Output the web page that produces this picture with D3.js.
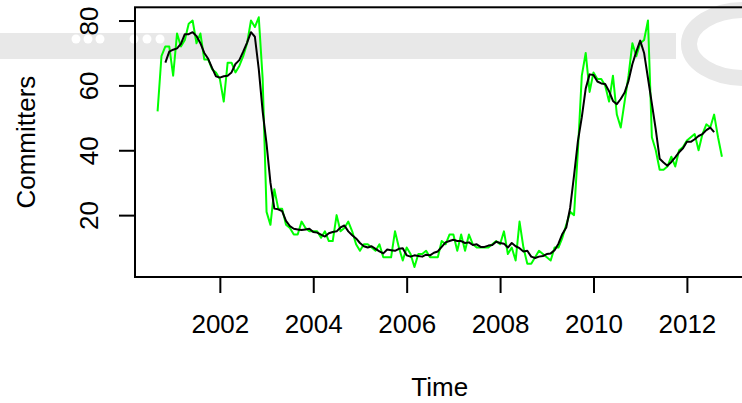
<!DOCTYPE html>
<html>
<head>
<meta charset="utf-8">
<script src="https://cdn.jsdelivr.net/npm/d3@7"></script>
<style>
  body { margin: 0; background: #fff; }
  svg { display: block; font-family: "Liberation Sans", Arial, sans-serif; }
</style>
</head>
<body>
<div id="chart"></div>
<script>
// monthly committers, Sep 2000 .. Oct 2012
var seriesStart = [2000, 9];
var committers = [
  52, 69, 72, 72,
  63, 76, 72, 74, 79, 80, 73, 76, 68, 68, 65, 64,
  62, 55, 67, 67, 64, 66, 69, 73, 80, 78, 81, 62,
  21, 17, 28, 22, 22, 17, 16, 14, 14, 18, 16, 15,
  15, 15, 13, 15, 12, 12, 20, 15, 16, 18, 15, 11,
  9, 11, 11, 10, 9, 11, 7, 7, 7, 15, 10, 6,
  10, 8, 4, 8, 8, 9, 7, 7, 7, 12, 11, 14,
  14, 9, 14, 9, 14, 11, 10, 10, 10, 10, 11, 12,
  11, 15, 8, 10, 6, 18, 10, 5, 5, 7, 9, 8,
  7, 6, 10, 10, 13, 17, 21, 20, 40, 63, 70, 58,
  64, 62, 62, 60, 55, 63, 51, 47, 55, 63, 73, 69,
  73, 74, 80, 44, 40, 34, 34, 35, 38, 35, 40, 41,
  43, 44, 45, 40, 45, 48, 47, 51, 44, 38
];

// smoothed trend (black line), Nov 2000 .. Aug 2012
var smoothStart = [2000, 11];
var smoothed = [
  67, 70.4,
  71, 71.4, 72.8, 75.8, 75.8, 76.4, 75.2, 73, 70, 68.2, 65.4, 62.8,
  62.4, 62.8, 63, 64, 66.6, 67.8, 70.4, 73.2, 76.4, 75, 65, 52,
  42, 30, 22, 21.8, 21.2, 18.2, 16.6, 15.8, 15.6, 15.4, 15.6, 15.8,
  14.8, 14.6, 14, 13.4, 14.4, 14.8, 15, 16.2, 16.8, 15, 13.8, 12.8,
  11.4, 10.4, 10, 10.4, 9.6, 8.8, 8.2, 9.4, 9.2, 9, 9.6, 9.8,
  7.6, 7.2, 7.6, 7.4, 7.2, 7.8, 7.6, 8.4, 8.8, 10.2, 11.6, 12,
  12.4, 12, 12, 11.4, 11.6, 10.8, 11, 10.2, 10.2, 10.6, 10.8, 11.8,
  11.4, 11.2, 10, 11.4, 10.4, 9.8, 8.8, 9, 7.2, 6.8, 7.2, 7.4,
  8, 8.2, 9.2, 11.2, 14.2, 16.2, 22.2, 32.2, 42.8, 50.2, 59, 63.4,
  63.2, 61.2, 60.6, 60.4, 58.2, 55.2, 54.2, 55.8, 57.8, 61.4, 66.6, 70.4,
  73.8, 70, 62.2, 54.4, 46.4, 37.4, 36.2, 35.2, 36.4, 37.8, 39.4, 40.6,
  42.6, 42.6, 43.4, 44.4, 45, 46.2, 47, 45.6
];

var xTicks = [2002, 2004, 2006, 2008, 2010, 2012];
var yTicks = [20, 40, 60, 80];
var xTitle = "Time";
var yTitle = "Committers";

var width = 742, height = 403;
var box = {left: 135, right: 744.5, top: 7.3, bottom: 277};
var fontSize = 26, lineH = fontSize * 1.2;

function toTime(start, i) {
  return start[0] + (start[1] - 1 + i) / 12;
}

var raw = committers.map(function(v, i) { return {t: toTime(seriesStart, i), v: v}; });
var smooth = smoothed.map(function(v, i) { return {t: toTime(smoothStart, i), v: v}; });

// R style axis ranges: data range padded 4% each side
var tExt = d3.extent(raw, function(d) { return d.t; });
var tPad = (tExt[1] - tExt[0]) * 0.04;
var vExt = d3.extent(committers);
var vPad = (vExt[1] - vExt[0]) * 0.04;

var x = d3.scaleLinear()
  .domain([tExt[0] - tPad, tExt[1] + tPad])
  .range([box.left, box.right]);

var y = d3.scaleLinear()
  .domain([vExt[0] - vPad, vExt[1] + vPad])
  .range([box.bottom, box.top]);

var svg = d3.select('#chart')
  .append('svg')
  .attr('width', width)
  .attr('height', height);

// faint watermark behind the plot
var wm = svg.append('g').attr('fill', '#e8e8e8');
wm.append('rect').attr('x', 0).attr('y', 33).attr('width', 676).attr('height', 26);
wm.append('ellipse')
  .attr('cx', 744).attr('cy', 44).attr('rx', 55).attr('ry', 34)
  .attr('fill', 'none').attr('stroke', '#e8e8e8').attr('stroke-width', 16);
wm.selectAll('circle')
  .data([76, 88, 100, 134, 147, 160])
  .join('circle')
  .attr('cx', function(d) { return d; })
  .attr('cy', 39)
  .attr('r', 4.5)
  .attr('fill', '#fff');

var line = d3.line()
  .x(function(d) { return x(d.t); })
  .y(function(d) { return y(d.v); });

svg.append('path')
  .datum(raw)
  .attr('fill', 'none')
  .attr('stroke', '#00ff00')
  .attr('stroke-width', 2)
  .attr('stroke-linejoin', 'round')
  .attr('d', line);

svg.append('path')
  .datum(smooth)
  .attr('fill', 'none')
  .attr('stroke', '#000')
  .attr('stroke-width', 2)
  .attr('stroke-linejoin', 'round')
  .attr('d', line);

// axes
var gx = svg.append('g')
  .attr('transform', 'translate(0,' + box.bottom + ')')
  .call(d3.axisBottom(x).tickValues(xTicks).tickFormat(d3.format('d')).tickSize(16));

var gy = svg.append('g')
  .attr('transform', 'translate(' + box.left + ',0)')
  .call(d3.axisLeft(y).tickValues(yTicks).tickFormat(d3.format('d')).tickSize(16));

[gx, gy].forEach(function(g) {
  g.attr('font-size', fontSize).attr('font-family', null);
  g.select('.domain').remove();
  g.selectAll('.tick line').attr('stroke-width', 2);
  g.selectAll('.tick text').attr('fill', '#000');
});

gx.selectAll('.tick text')
  .attr('y', 1.8 * lineH)
  .attr('dy', null);

gy.selectAll('.tick text')
  .attr('x', null)
  .attr('dy', null)
  .attr('y', -1.2 * lineH)
  .attr('text-anchor', 'middle')
  .attr('transform', 'rotate(-90)');

// R draws the axis line between the outer ticks
svg.append('line')
  .attr('x1', x(xTicks[0])).attr('x2', x(xTicks[xTicks.length - 1]))
  .attr('y1', box.bottom).attr('y2', box.bottom)
  .attr('stroke', '#000').attr('stroke-width', 2);

svg.append('rect')
  .attr('x', box.left)
  .attr('y', box.top)
  .attr('width', box.right - box.left)
  .attr('height', box.bottom - box.top)
  .attr('fill', 'none')
  .attr('stroke', '#000')
  .attr('stroke-width', 2);

// axis titles
svg.append('text')
  .attr('x', (box.left + box.right) / 2)
  .attr('y', box.bottom + 3.8 * lineH)
  .attr('text-anchor', 'middle')
  .attr('font-size', fontSize)
  .text(xTitle);

svg.append('text')
  .attr('transform', 'translate(' + (box.left - 3.2 * lineH) + ',' + (box.top + box.bottom) / 2 + ') rotate(-90)')
  .attr('text-anchor', 'middle')
  .attr('font-size', fontSize)
  .text(yTitle);
</script>
</body>
</html>
